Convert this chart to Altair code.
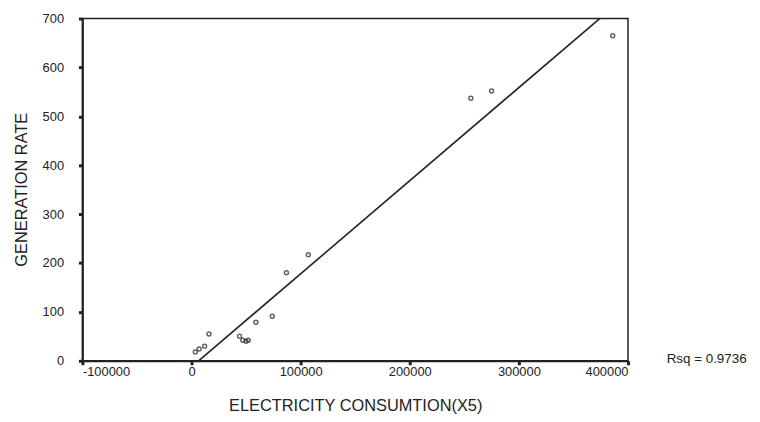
import altair as alt
import pandas as pd

# Data
consumption = [3500, 7000, 12000, 16000, 44000, 47000, 50000, 52000,
               59000, 74000, 87000, 107000, 256000, 275000, 386000]
generation = [18, 24, 30, 55, 50, 42, 40, 42,
              79, 91, 180, 217, 537, 552, 665]
x_ticks = [-100000, 0, 100000, 200000, 300000, 400000]
y_ticks = [0, 100, 200, 300, 400, 500, 600, 700]
rsq_label = ["Rsq = 0.9736"]

FONT = "Liberation Sans"
INK = "#222222"

df = pd.DataFrame({"x": consumption, "y": generation})

xscale = alt.Scale(domain=[-100000, 400000], nice=False, zero=False)
yscale = alt.Scale(domain=[0, 700], nice=False)

x_axis = alt.Axis(values=x_ticks, labelExpr="'' + datum.value",
                  title="ELECTRICITY CONSUMTION(X5)", grid=False,
                  labelFont=FONT, labelFontSize=13, labelColor=INK,
                  labelPadding=1, tickSize=4, tickWidth=3, tickColor=INK,
                  domainColor=INK, domainWidth=2,
                  titleFont=FONT, titleFontSize=16.5, titleFontWeight="normal",
                  titleColor=INK, titleY=45, titleBaseline="middle")
y_axis = alt.Axis(values=y_ticks, title="GENERATION RATE", grid=False,
                  labelFont=FONT, labelFontSize=13, labelColor=INK,
                  labelPadding=15, tickSize=4, tickWidth=3, tickColor=INK,
                  domainColor=INK, domainWidth=2,
                  titleFont=FONT, titleFontSize=16.5, titleFontWeight="normal",
                  titleColor=INK, titleX=-61, titleY=172, titleAngle=-90,
                  titleAlign="center", titleBaseline="middle")

base = alt.Chart(df)

points = base.mark_point(shape="circle", size=16, filled=False, color=INK,
                         strokeWidth=1.5).encode(
    x=alt.X("x:Q", scale=xscale, axis=x_axis),
    y=alt.Y("y:Q", scale=yscale, axis=y_axis),
)

fit = base.transform_regression("x", "y").mark_line(
    color=INK, strokeWidth=1.6, clip=True).encode(
    x=alt.X("x:Q", scale=xscale),
    y=alt.Y("y:Q", scale=yscale),
)

rsq = alt.Chart(pd.DataFrame({"t": rsq_label})).mark_text(
    align="left", baseline="middle", font=FONT, fontSize=13.5, color=INK).encode(
    x=alt.value(589), y=alt.value(343), text="t:N")

chart = (points + fit + rsq).properties(
    width=550, height=345,
    background="white",
    autosize=alt.AutoSizeParams(type="none"),
    padding={"left": 75, "top": 9, "right": 125, "bottom": 53},
).configure_view(stroke=INK, strokeWidth=1.5)

chart.save("out.html", embed_options={"renderer": "svg", "actions": False})
